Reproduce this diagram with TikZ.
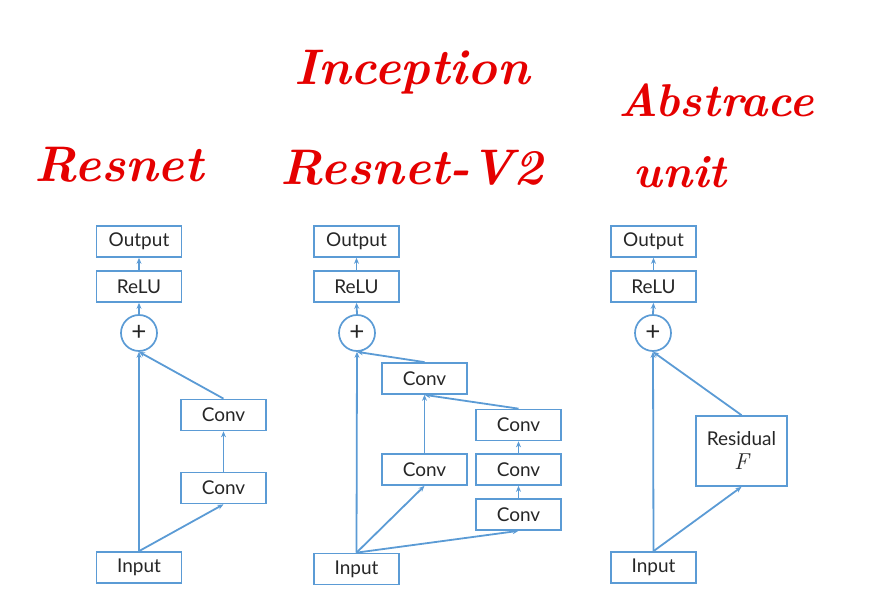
\documentclass[tikz,border=0pt]{standalone}
\usepackage{fontspec}
\usepackage{tikz}
\usepackage{xcolor}
\usetikzlibrary{arrows.meta, positioning}
\setsansfont{Lato}
\definecolor{Box_Blue}{HTML}{5B9BD5}
\definecolor{Ink_Red}{HTML}{E50000}
\definecolor{Box_Text}{HTML}{262626}

\tikzset{
    blk/.style={draw=Box_Blue, line width=1.7pt, minimum width=85pt, minimum height=31pt,
        inner sep=0pt, text=Box_Text, font=\sffamily\fontsize{19}{22}\selectfont},
    addnode/.style={draw=Box_Blue, line width=1.7pt, circle, minimum size=36pt, inner sep=0pt,
        text=Box_Text, font=\sffamily\fontsize{26}{26}\selectfont},
    flow/.style={draw=Box_Blue, line width=1.8pt, -{Stealth[length=6pt,width=5pt]}},
    hand/.style={text=Ink_Red, font=\bfseries\itshape\fontsize{50}{56}\selectfont}
}

\begin{document}
\begin{tikzpicture}[x=1pt, y=-1pt]
    \useasboundingbox (0,0) rectangle (884,601);

    % Titles
    \node[hand] (tres) at (119,165) {Resnet};
    \node[hand] (tinc) at (412,72) {Inception};
    \node[hand] (tresv) at (412,168) {Resnet-V2};
    \node[hand, font=\bfseries\itshape\fontsize{46}{54}\selectfont] (tabs) at (716,100) {Abstrace};
    \node[hand, font=\bfseries\itshape\fontsize{46}{54}\selectfont] (tunit) at (680,172) {unit};

    % Resnet
    \node[blk] (aout) at (139,241.5) {Output};
    \node[blk] (arelu) at (139,286.5) {ReLU};
    \node[addnode] (aadd) at (139,333) {+};
    \node[blk] (aconvb) at (223.5,415) {Conv};
    \node[blk] (aconva) at (223.5,488) {Conv};
    \node[blk] (ain) at (139,567.5) {Input};
    \draw[flow] (ain.north) -- (aadd.south);
    \draw[flow] (ain.north) -- (aconva.south);
    \draw[flow] (aconva.north) -- (aconvb.south);
    \draw[flow] (aconvb.north) -- (aadd.south);
    \draw[flow] (aadd.north) -- (arelu.south);
    \draw[flow] (arelu.north) -- (aout.south);

    % Inception-Resnet-V2
    \node[blk] (bout) at (356.5,241.5) {Output};
    \node[blk] (brelu) at (356.5,286.5) {ReLU};
    \node[addnode] (badd) at (357,333) {+};
    \node[blk] (bconvtop) at (424.5,378.5) {Conv};
    \node[blk] (bconvl) at (424.5,469.5) {Conv};
    \node[blk] (bconvra) at (518.5,425) {Conv};
    \node[blk] (bconvrb) at (518.5,469.5) {Conv};
    \node[blk] (bconvrc) at (518.5,514.5) {Conv};
    \node[blk] (bin) at (356.5,569) {Input};
    \draw[flow] (bin.north) -- (badd.south);
    \draw[flow] (bin.north) -- (bconvl.south);
    \draw[flow] (bin.north) -- (bconvrc.south);
    \draw[flow] (bconvrc.north) -- (bconvrb.south);
    \draw[flow] (bconvrb.north) -- (bconvra.south);
    \draw[flow] (bconvra.north) -- (bconvtop.south);
    \draw[flow] (bconvl.north) -- (bconvtop.south);
    \draw[flow] (bconvtop.north) -- (badd.south);
    \draw[flow] (badd.north) -- (brelu.south);
    \draw[flow] (brelu.north) -- (bout.south);

    % Abstract unit
    \node[blk] (cout) at (653.5,241.5) {Output};
    \node[blk] (crelu) at (653.5,286.5) {ReLU};
    \node[addnode] (cadd) at (653,333) {+};
    \node[blk, minimum width=91pt, minimum height=70pt, align=center] (cres) at (741.5,451)
        {Residual\\[2pt] {\rmfamily\itshape\fontsize{23}{23}\selectfont F}};
    \node[blk] (cin) at (653.5,567.5) {Input};
    \draw[flow] (cin.north) -- (cadd.south);
    \draw[flow] (cin.north) -- (cres.south);
    \draw[flow] (cres.north) -- (cadd.south);
    \draw[flow] (cadd.north) -- (crelu.south);
    \draw[flow] (crelu.north) -- (cout.south);
\end{tikzpicture}
\end{document}
